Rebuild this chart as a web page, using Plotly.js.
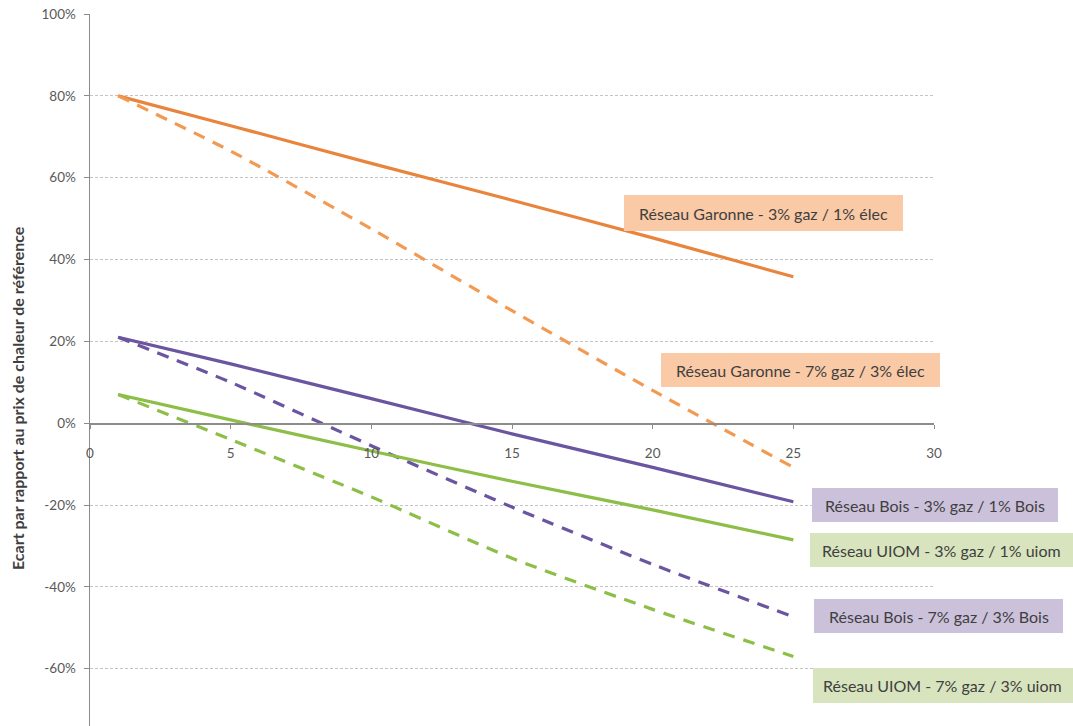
<!DOCTYPE html>
<html>
<head>
<meta charset="utf-8">
<script src="https://cdn.plot.ly/plotly-3.0.1.min.js"></script>
<style>html,body{margin:0;padding:0;background:#fff;}#chart{width:1073px;height:726px;}</style>
</head>
<body>
<div id="chart"></div>
<script>
const years = [1, 5, 10, 15, 20, 25];
const garonne3 = [0.80, 0.727, 0.635, 0.545, 0.453, 0.358];
const garonne7 = [0.80, 0.665, 0.475, 0.275, 0.08, -0.108];
const bois3 = [0.21, 0.145, 0.06, -0.026, -0.108, -0.192];
const bois7 = [0.21, 0.10, -0.055, -0.205, -0.345, -0.473];
const uiom3 = [0.07, 0.008, -0.068, -0.142, -0.212, -0.285];
const uiom7 = [0.07, -0.04, -0.18, -0.33, -0.455, -0.57];
const yTickVals = [-0.6, -0.4, -0.2, 0, 0.2, 0.4, 0.6, 0.8, 1.0];
const yTickText = ["-60%", "-40%", "-20%", "0%", "20%", "40%", "60%", "80%", "100%"];
const xTickVals = [0, 5, 10, 15, 20, 25, 30];
const labels = [
  "Réseau Garonne - 3% gaz / 1% élec",
  "Réseau Garonne - 7% gaz / 3% élec",
  "Réseau Bois - 3% gaz / 1% Bois",
  "Réseau UIOM - 3% gaz / 1% uiom",
  "Réseau Bois - 7% gaz / 3% Bois",
  "Réseau UIOM - 7% gaz / 3% uiom"
];
const yTitle = "Ecart par rapport au prix de chaleur de référence";

const W = 1073, H = 726;
const L = 90, R = 139, T = 14, B = 0;
const pw = W - L - R, ph = H - T - B;
const yMin = -0.74, yMax = 1.0;
const px = x => (x - L) / pw;
const py = y => (H - B - y) / ph;

const orange = "#E9843C", orangeD = "#F39A52";
const purple = "#6B55A0", green = "#8DBE48";
const FONT = "Lato, 'Open Sans', sans-serif";

function tr(y, color, dash) {
  return {x: years, y: y, type: "scatter", mode: "lines",
    line: {color: color, width: 3.2, dash: dash, shape: "spline", smoothing: 0.6},
    hoverinfo: "skip", showlegend: false};
}
const data = [
  tr(garonne3, orange, "solid"),
  tr(garonne7, orangeD, "12px,9px"),
  tr(bois3, purple, "solid"),
  tr(bois7, purple, "12px,9px"),
  tr(uiom3, green, "solid"),
  tr(uiom7, green, "12px,9px")
];

// label boxes in pixel coords [x0,x1,y0,y1,fill]
const boxes = [
  [624, 903, 195, 231, "#FAC9A6"],
  [661, 940, 353, 387, "#FAC9A6"],
  [812, 1058, 488, 522, "#CCC1DB"],
  [810, 1073, 533, 567, "#D8E4BE"],
  [814, 1063, 599, 633, "#CCC1DB"],
  [813, 1073, 668, 703, "#D8E4BE"]
];
const shapes = boxes.map(b => ({type: "rect", xref: "paper", yref: "paper",
  x0: px(b[0]), x1: px(b[1]), y0: py(b[3]), y1: py(b[2]),
  fillcolor: b[4], line: {width: 0}, layer: "above"}));
const annotations = boxes.map((b, i) => ({xref: "paper", yref: "paper",
  x: px((b[0] + b[1]) / 2), y: py((b[2] + b[3]) / 2), xanchor: "center", yanchor: "middle",
  text: labels[i], showarrow: false, font: {family: FONT, size: 16, color: "#3F3F3F"}}));
annotations.push({xref: "paper", yref: "paper", x: px(17), y: py(398), textangle: -90,
  xanchor: "center", yanchor: "middle", showarrow: false, text: "<b>" + yTitle + "</b>",
  font: {family: FONT, size: 16, color: "#3F3F3F"}});

const layout = {
  width: W, height: H,
  margin: {l: L, r: R, t: T, b: B, pad: 0},
  paper_bgcolor: "#fff", plot_bgcolor: "#fff",
  showlegend: false,
  xaxis: {range: [0, 30], tickmode: "array", tickvals: xTickVals,
    anchor: "free", position: (0 - yMin) / (yMax - yMin),
    showline: true, linecolor: "#8C8C8C", linewidth: 1.5,
    ticks: "outside", ticklen: 4, tickcolor: "#8C8C8C", ticklabelstandoff: 13,
    showgrid: false, zeroline: false,
    tickfont: {family: FONT, size: 13.5, color: "#595959"}},
  yaxis: {range: [yMin, yMax], tickmode: "array", tickvals: yTickVals, ticktext: yTickText,
    showline: true, linecolor: "#8C8C8C", linewidth: 1.5,
    ticks: "outside", ticklen: 5, tickcolor: "#8C8C8C", ticklabelstandoff: 5,
    showgrid: true, gridcolor: "#C4C4C4", griddash: "3px,2px", gridwidth: 1, zeroline: false,
    tickfont: {family: FONT, size: 13.5, color: "#595959"}},
  shapes: shapes,
  annotations: annotations
};
Plotly.newPlot("chart", data, layout, {displayModeBar: false, staticPlot: true});
</script>
</body>
</html>
